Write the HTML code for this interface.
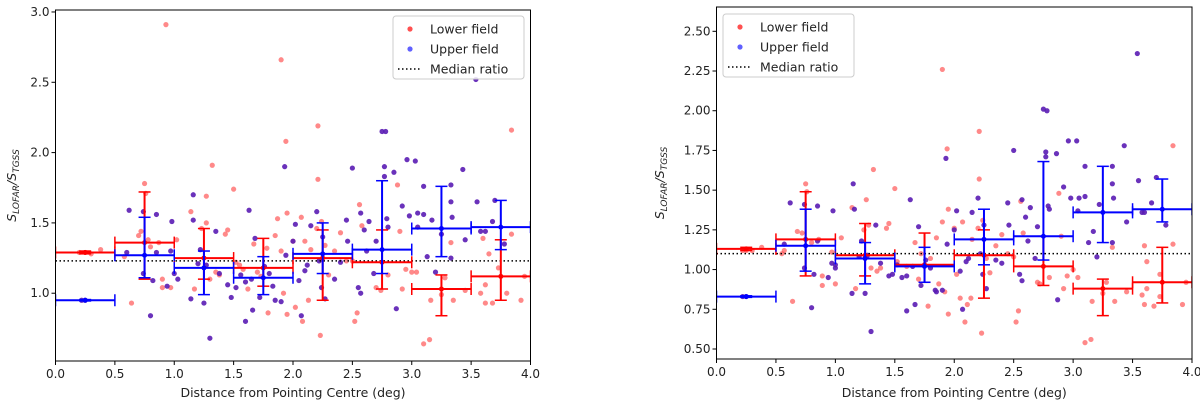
<!DOCTYPE html>
<html><head><meta charset="utf-8"><style>
body{margin:0;background:#fff;font-family:"Liberation Sans","DejaVu Sans",sans-serif;}
svg{display:block}
text{font-family:"DejaVu Sans","Liberation Sans",sans-serif;}
</style></head><body>
<svg id="s" width="1200" height="405"></svg>
<script>
const binCenters=[0.25,0.75,1.25,1.75,2.25,2.75,3.25,3.75];
// Left chart data
const L_redX=[0.25,0.2,0.3,0.38,0.58,0.64,0.7,0.72,0.75,0.76,0.78,0.8,0.87,0.9,0.9,0.93,0.97,1.02,1.14,1.17,1.23,1.27,1.27,1.3,1.32,1.35,1.38,1.43,1.45,1.5,1.52,1.55,1.58,1.62,1.67,1.7,1.73,1.78,1.79,1.85,1.87,1.9,1.9,1.92,1.94,1.95,1.95,2.0,2.02,2.07,2.08,2.1,2.13,2.15,2.2,2.21,2.21,2.23,2.24,2.27,2.3,2.35,2.4,2.45,2.5,2.52,2.54,2.56,2.58,2.7,2.74,2.8,2.88,2.9,2.92,2.95,3.0,3.04,3.1,3.15,3.16,3.25,3.28,3.33,3.35,3.45,3.58,3.62,3.62,3.65,3.68,3.73,3.8,3.84,3.84,3.92,3.95,3.6];
const L_redY=[1.29,1.29,1.28,1.31,1.26,0.93,1.41,1.44,1.78,1.71,1.38,1.33,1.36,1.10,1.04,2.91,1.04,1.38,1.58,1.03,1.46,1.50,1.69,1.10,1.91,1.15,1.13,1.42,1.45,1.74,1.22,1.20,1.17,1.03,1.35,1.15,1.12,1.32,0.86,1.41,1.53,2.66,1.30,1.00,2.08,1.57,0.85,1.37,0.90,1.54,0.80,1.37,0.95,1.31,1.46,2.19,1.81,0.70,1.51,1.34,1.13,1.30,1.43,1.23,1.23,0.80,0.86,1.63,1.48,1.04,1.02,1.13,1.77,1.44,1.03,1.17,1.15,1.15,0.64,0.67,0.95,0.99,1.11,1.36,0.95,1.02,1.00,1.06,0.93,1.28,0.93,1.18,1.00,2.16,1.42,0.95,1.12,1.39];
const L_bluX=[0.25,0.22,0.6,0.62,0.74,0.74,0.8,0.82,0.85,0.85,0.94,0.97,0.98,1.0,1.03,1.14,1.16,1.16,1.2,1.22,1.25,1.27,1.3,1.35,1.38,1.45,1.48,1.52,1.56,1.6,1.6,1.63,1.65,1.66,1.68,1.72,1.76,1.8,1.83,1.85,1.9,1.93,1.94,2.0,2.02,2.05,2.07,2.1,2.12,2.15,2.2,2.22,2.24,2.25,2.27,2.35,2.4,2.45,2.46,2.5,2.55,2.57,2.57,2.6,2.62,2.64,2.68,2.7,2.75,2.78,2.77,2.77,2.79,2.8,2.85,2.87,2.92,2.96,2.98,3.03,3.05,3.05,3.1,3.1,3.13,3.17,3.2,3.25,3.33,3.33,3.34,3.33,3.43,3.45,3.54,3.55,3.58,3.62,3.68,3.7,3.78];
const L_bluY=[0.95,0.95,1.29,1.59,1.14,1.58,0.84,1.09,1.56,1.29,1.05,1.30,1.51,1.14,1.10,0.96,1.70,1.52,1.21,1.31,0.93,1.20,0.68,1.44,1.14,1.06,0.97,1.04,1.13,0.80,1.08,1.59,1.10,0.88,1.39,0.97,1.19,1.14,1.05,0.95,0.94,1.90,1.27,1.37,1.49,1.09,0.84,1.16,1.20,1.48,1.58,1.23,1.04,1.40,0.96,1.10,1.22,1.52,1.37,1.89,1.04,1.57,1.00,1.45,1.30,1.51,1.14,1.37,2.15,2.15,1.90,1.83,1.53,1.47,1.86,0.89,1.62,1.95,1.55,1.94,1.47,1.57,1.76,1.56,1.26,1.52,1.15,1.42,1.65,1.77,1.54,1.25,1.88,1.38,2.52,1.65,1.44,1.44,1.51,1.66,1.35];
const L_redMean=[1.29,1.36,1.25,1.18,1.25,1.22,1.03,1.12];
const L_redLo=[1.28,1.10,1.10,1.05,0.95,1.03,0.84,0.95];
const L_redHi=[1.30,1.72,1.46,1.39,1.45,1.45,1.13,1.38];
const L_bluMean=[0.95,1.27,1.18,1.11,1.28,1.31,1.46,1.47];
const L_bluLo=[0.945,1.11,0.99,0.99,1.14,1.14,1.26,1.31];
const L_bluHi=[0.955,1.54,1.30,1.26,1.50,1.80,1.76,1.66];
const L_median=1.23;
const L_ticks=[1.0,1.5,2.0,2.5,3.0];
// Right chart data
const R_redX=[0.25,0.22,0.3,0.38,0.55,0.57,0.64,0.68,0.72,0.75,0.76,0.8,0.86,0.89,0.89,0.97,1.0,1.05,1.14,1.17,1.24,1.26,1.28,1.3,1.32,1.35,1.38,1.43,1.45,1.5,1.52,1.6,1.67,1.7,1.78,1.72,1.8,1.85,1.87,1.9,1.9,1.92,1.94,1.95,1.95,2.0,2.02,2.05,2.07,2.09,2.11,2.14,2.15,2.2,2.21,2.21,2.23,2.24,2.27,2.3,2.35,2.4,2.45,2.5,2.52,2.54,2.56,2.58,2.7,2.72,2.8,2.88,2.9,2.92,2.95,3.0,3.04,3.1,3.15,3.16,3.25,3.28,3.33,3.35,3.45,3.58,3.6,3.6,3.62,3.62,3.68,3.73,3.73,3.84,3.84,3.92,3.95];
const R_redY=[1.12,1.12,1.12,1.14,1.10,1.12,0.80,1.24,1.23,1.54,1.49,1.17,1.19,0.96,0.90,1.11,0.91,1.20,1.39,0.88,1.25,1.44,1.28,1.01,1.63,0.99,1.01,1.26,1.29,1.51,1.05,1.02,1.17,0.94,0.77,1.10,1.07,1.20,0.91,2.26,1.30,0.86,1.76,1.38,0.72,1.26,0.97,0.82,1.30,0.67,0.78,0.82,1.19,1.26,1.87,1.57,0.60,1.31,1.07,0.98,1.15,1.22,1.10,1.08,0.67,0.74,1.43,1.23,0.92,0.91,0.95,1.48,1.21,0.88,0.96,1.00,0.95,0.54,0.56,0.80,0.85,0.92,1.14,0.80,0.86,0.84,1.15,0.78,0.88,1.05,0.77,0.97,0.83,1.78,1.16,0.78,0.92];
const R_bluX=[0.25,0.22,0.57,0.62,0.74,0.74,0.8,0.82,0.85,0.85,0.94,0.97,0.98,1.0,1.0,1.14,1.15,1.16,1.2,1.22,1.25,1.27,1.3,1.34,1.38,1.45,1.48,1.52,1.56,1.6,1.6,1.63,1.65,1.67,1.7,1.72,1.76,1.8,1.84,1.85,1.9,1.93,1.94,2.0,2.02,2.05,2.07,2.1,2.12,2.15,2.2,2.22,2.24,2.25,2.27,2.35,2.4,2.45,2.46,2.5,2.55,2.57,2.57,2.6,2.62,2.64,2.68,2.7,2.75,2.78,2.77,2.77,2.79,2.8,2.86,2.87,2.92,2.96,2.98,3.03,3.04,3.05,3.1,3.1,3.13,3.17,3.2,3.22,3.33,3.33,3.34,3.33,3.43,3.45,3.54,3.55,3.58,3.6,3.66,3.7,3.78];
const R_bluY=[0.83,0.83,1.16,1.42,1.01,1.41,0.76,0.97,1.40,1.18,0.95,1.04,1.37,1.03,1.01,0.85,1.54,1.38,1.08,1.18,0.85,1.09,0.61,1.28,1.04,0.96,0.97,1.03,0.95,0.74,0.96,1.44,1.02,0.78,1.27,0.90,1.06,1.01,0.87,0.86,0.87,1.70,1.16,1.25,1.37,0.99,0.75,1.05,1.07,1.36,1.45,1.10,0.97,1.28,0.88,1.06,1.04,1.42,1.28,1.75,0.97,1.44,0.93,1.33,1.18,1.39,1.07,1.27,2.01,2.00,1.74,1.71,1.40,1.38,1.73,0.81,1.52,1.81,1.45,1.81,1.37,1.45,1.65,1.46,1.17,1.24,1.08,1.41,1.54,1.65,1.45,1.17,1.78,1.30,2.36,1.56,1.36,1.36,1.42,1.58,1.28];
const R_redMean=[1.13,1.19,1.09,1.03,1.09,1.02,0.88,0.92];
const R_redLo=[1.12,0.96,0.96,0.92,0.82,0.90,0.71,0.79];
const R_redHi=[1.14,1.49,1.29,1.23,1.25,1.21,0.94,1.14];
const R_bluMean=[0.83,1.15,1.07,1.02,1.19,1.21,1.36,1.38];
const R_bluLo=[0.825,0.99,0.91,0.92,1.03,1.06,1.17,1.30];
const R_bluHi=[0.835,1.38,1.17,1.14,1.38,1.68,1.65,1.57];
const R_median=1.10;
const R_ticks=[0.50,0.75,1.00,1.25,1.50,1.75,2.00,2.25,2.50];
const xTicks=[0,0.5,1.0,1.5,2.0,2.5,3.0,3.5,4.0];

const NS='http://www.w3.org/2000/svg';
const svg=document.getElementById('s');
function mk(tag,attrs,parent,txt){const e=document.createElementNS(NS,tag);for(const k in attrs)e.setAttribute(k,attrs[k]);if(txt!==undefined)e.textContent=txt;parent.appendChild(e);return e;}

function chart(cfg){
  const g=mk('g',{},svg);
  
  
  const X=v=>cfg.x0+(v/4)*(cfg.x1-cfg.x0);
  const Y=v=>cfg.yb-(v-cfg.vmin)/(cfg.vmax-cfg.vmin)*(cfg.yb-cfg.yt);
  const clip='c'+cfg.name;
  const d=mk('defs',{},g);const cp=mk('clipPath',{id:clip},d);
  mk('rect',{x:cfg.x0,y:cfg.yt,width:cfg.x1-cfg.x0,height:cfg.yb-cfg.yt},cp);
  const pg=mk('g',{'clip-path':'url(#'+clip+')'},g);
  // scatter
  cfg.rx.forEach((v,i)=>{const c=mk('circle',{cx:X(v),cy:Y(cfg.ry[i]),r:2.6,fill:'#ff3b3b','fill-opacity':0.6},pg);
    
    });
  cfg.bx.forEach((v,i)=>{const c=mk('circle',{cx:X(v),cy:Y(cfg.by[i]),r:2.6,fill:'#5a1cb4','fill-opacity':0.9},pg);
    
    });
  // median
  const ml=mk('line',{x1:cfg.x0,x2:cfg.x1,y1:Y(cfg.med),y2:Y(cfg.med),stroke:'#000','stroke-width':1.5,'stroke-dasharray':'1.5,2.5'},pg);
  
  
  // error bars
  function eb(mean,lo,hi,col,nm){
    binCenters.forEach((c,i)=>{
      const e=mk('g',{stroke:col,'stroke-width':2,fill:'none'},pg);
      
      
      const xa=X(c-0.25),xb=X(c+0.25),xc=X(c),ym=Y(mean[i]),yl=Y(lo[i]),yh=Y(hi[i]);
      mk('line',{x1:xa,x2:xb,y1:ym,y2:ym},e);
      mk('line',{x1:xc,x2:xc,y1:yl,y2:yh},e);
      mk('line',{x1:xa,x2:xa,y1:ym-6,y2:ym+6,'stroke-width':1.5},e);
      mk('line',{x1:xb,x2:xb,y1:ym-6,y2:ym+6,'stroke-width':1.5},e);
      mk('line',{x1:xc-6,x2:xc+6,y1:yl,y2:yl,'stroke-width':1.5},e);
      mk('line',{x1:xc-6,x2:xc+6,y1:yh,y2:yh,'stroke-width':1.5},e);
      mk('circle',{cx:xc,cy:ym,r:2.5,fill:col,stroke:'none'},e);
    });
  }
  eb(cfg.rm,cfg.rl,cfg.rh,'#ff0000','lower-field-errorbar');
  eb(cfg.bm,cfg.bl,cfg.bh,'#0000ff','upper-field-errorbar');
  // frame
  const fr=mk('rect',{x:cfg.x0,y:cfg.yt,width:cfg.x1-cfg.x0,height:cfg.yb-cfg.yt,fill:'none',stroke:'#000','stroke-width':1},g);
  
  
  // x ticks
  xTicks.forEach(t=>{const x=X(t);mk('line',{x1:x,x2:x,y1:cfg.yb,y2:cfg.yb+4,stroke:'#000'},g);
    const tx=mk('text',{x:x,y:cfg.yb+17,'font-size':12,'text-anchor':'middle',fill:'#222'},g,t.toFixed(1));
    
    });
  cfg.ticks.forEach(t=>{const y=Y(t);mk('line',{x1:cfg.x0-4,x2:cfg.x0,y1:y,y2:y,stroke:'#000'},g);
    const tx=mk('text',{x:cfg.x0-6,y:y+4,'font-size':12,'text-anchor':'end',fill:'#222'},g,t.toFixed(cfg.dec));
    
    });
  const xt=mk('text',{x:(cfg.x0+cfg.x1)/2,y:397,'font-size':12.5,'text-anchor':'middle',fill:'#222'},g,'Distance from Pointing Centre (deg)');
  
  
  const yc=(cfg.yt+cfg.yb)/2;
  const yt=mk('text',{x:cfg.ylx,y:yc,'font-size':12.5,'text-anchor':'middle',fill:'#222',transform:`rotate(-90 ${cfg.ylx} ${yc})`,'font-style':'italic'},g);
  
  
  yt.innerHTML='S<tspan font-size="9" dy="3">LOFAR</tspan><tspan dy="-3">/S</tspan><tspan font-size="9" dy="3">TGSS</tspan>';
  // legend
  const lg=mk('g',{},g);
  
  
  const lx=cfg.lx,ly=cfg.ly;
  mk('rect',{x:lx,y:ly,width:131,height:63,rx:3,fill:'#fff','fill-opacity':0.85,stroke:'#ccc'},lg);
  const items=[['Lower field','#ff5050'],['Upper field','#6060ff'],['Median ratio',null]];
  items.forEach((it,i)=>{const yy=ly+13+i*20;
    const e=mk('g',{},lg);
    
    
    if(it[1])mk('circle',{cx:lx+17,cy:yy,r:2.6,fill:it[1]},e);
    else mk('line',{x1:lx+5,x2:lx+29,y1:yy,y2:yy,stroke:'#000','stroke-width':1.5,'stroke-dasharray':'1.5,2.5'},e);
    mk('text',{x:lx+37,y:yy+4.5,'font-size':12.5,fill:'#222'},e,it[0]);});
}
chart({name:'left-chart',x0:55.5,x1:530.5,yt:10,yb:361,vmin:0.518,vmax:3.014,ticks:L_ticks,dec:1,ylx:16,lx:393,ly:16,
  rx:L_redX,ry:L_redY,bx:L_bluX,by:L_bluY,rm:L_redMean,rl:L_redLo,rh:L_redHi,bm:L_bluMean,bl:L_bluLo,bh:L_bluHi,med:L_median});
chart({name:'right-chart',x0:716.5,x1:1192,yt:7,yb:359,vmin:0.437,vmax:2.653,ticks:R_ticks,dec:2,ylx:664,lx:723,ly:14,
  rx:R_redX,ry:R_redY,bx:R_bluX,by:R_bluY,rm:R_redMean,rl:R_redLo,rh:R_redHi,bm:R_bluMean,bl:R_bluLo,bh:R_bluHi,med:R_median});
</script>
</body></html>
